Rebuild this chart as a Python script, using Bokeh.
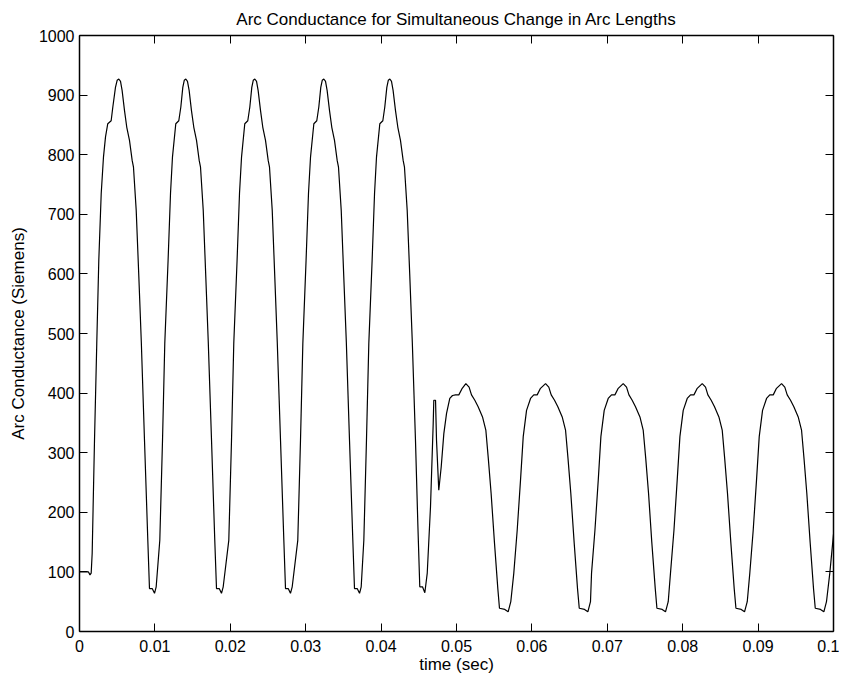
import numpy as np
from bokeh.plotting import figure
from bokeh.models import (Range1d, LinearAxis, FixedTicker, NumeralTickFormatter,
                          CustomJSTickFormatter, ColumnDataSource)
from bokeh.embed import file_html
from bokeh.resources import INLINE

# ---- data (time in ms, conductance in Siemens) ----
t_start = [0, 1.19, 1.39, 1.55, 1.68, 1.99, 2.29, 2.56, 2.88, 3.18, 3.45, 3.75, 4.20, 4.42, 4.77, 5.00, 5.21]
g_start = [100, 100, 95, 98, 131, 321, 483, 623, 735, 796, 830, 852, 857, 880, 913, 925, 927]

t_fall1 = [5.44, 5.65, 5.97, 6.27, 6.63, 6.99, 7.16, 7.52, 7.87, 8.20, 8.62, 9.06, 9.28, 9.64, 9.95, 10.17]
t_rise2 = [10.65, 11.01, 11.31, 11.75, 12.07, 12.33, 12.77, 13.17, 13.44, 13.70, 13.90, 14.10]
t_fall2 = [14.32, 14.54, 14.85, 15.16, 15.52, 15.88, 16.05, 16.41, 16.75, 17.08, 17.51, 17.94, 18.17, 18.53, 18.83, 19.06]
t_rise3 = [19.80, 20.16, 20.46, 20.90, 21.22, 21.49, 21.92, 22.32, 22.59, 22.85, 23.05, 23.25]
t_fall3 = [23.48, 23.69, 24.01, 24.31, 24.67, 25.03, 25.20, 25.56, 25.90, 26.23, 26.66, 27.10, 27.32, 27.68, 27.98, 28.21]
t_rise4 = [28.95, 29.31, 29.62, 30.05, 30.37, 30.64, 31.08, 31.47, 31.74, 32.00, 32.20, 32.40]
t_fall4 = [32.63, 32.84, 33.16, 33.46, 33.82, 34.18, 34.35, 34.71, 35.05, 35.39, 35.81, 36.25, 36.47, 36.83, 37.14, 37.36]
t_rise5 = [37.71, 38.06, 38.37, 38.81, 39.13, 39.39, 39.83, 40.23, 40.49, 40.76, 40.96, 41.16]
g_fall_hi = [923, 908, 874, 846, 824, 790, 779, 707, 595, 485, 321, 153, 72, 72, 64, 75]
g_rise_hi = [153, 321, 483, 623, 735, 796, 852, 857, 880, 913, 925, 927]

t_switch = [41.38, 41.59, 41.91, 42.22, 42.57, 42.93, 43.10, 43.46, 43.81, 44.14,
            44.56, 44.87, 45.13, 45.49, 45.80, 46.12, 46.55, 46.91, 46.99, 47.22, 47.35,
            47.65, 47.97, 48.32, 48.68, 49.11, 49.47, 49.87, 50.31, 50.76, 51.24]
g_switch = [923, 908, 874, 846, 824, 790, 779, 707, 595, 485,
            321, 181, 75, 75, 65, 98, 209, 349, 388, 388, 321,
            237, 276, 332, 366, 391, 396, 397, 397, 408, 416]

t_fallq1 = [51.67, 51.99, 52.43, 52.87, 53.45, 53.89, 54.22, 54.59, 55.03, 55.48, 55.70, 56.41, 56.85, 57.20]
t_riseq2 = [57.60, 58.05, 58.49, 58.85, 59.29, 59.82, 60.25, 60.70, 61.14, 61.81]
t_fallq2 = [62.24, 62.56, 63.00, 63.44, 64.02, 64.46, 64.79, 65.16, 65.60, 66.05, 66.28, 66.98, 67.42, 67.77]
t_riseq3 = [67.91, 68.36, 68.80, 69.15, 69.59, 70.12, 70.56, 71.01, 71.45, 72.11]
t_fallq3 = [72.55, 72.87, 73.30, 73.74, 74.33, 74.76, 75.10, 75.47, 75.90, 76.36, 76.58, 77.28, 77.72, 78.08]
t_riseq4 = [78.38, 78.84, 79.27, 79.63, 80.07, 80.60, 81.04, 81.49, 81.93, 82.59]
t_fallq4 = [83.03, 83.34, 83.78, 84.22, 84.80, 85.24, 85.57, 85.94, 86.38, 86.83, 87.06, 87.76, 88.20, 88.56]
t_riseq5 = [88.90, 89.35, 89.79, 90.15, 90.59, 91.12, 91.55, 92.01, 92.44, 93.11]
t_fallq5 = [93.54, 93.86, 94.30, 94.74, 95.32, 95.76, 96.09, 96.46, 96.90, 97.35, 97.58, 98.28, 98.72, 99.07]
g_fall_lo = [410, 397, 388, 377, 360, 338, 290, 232, 150, 72, 39, 37, 33, 50]
g_rise_lo = [98, 170, 254, 327, 371, 391, 397, 397, 408, 416]

t_end = [99.51, 100.0]
g_end = [98, 163]

x_ticks = [0, 0.01, 0.02, 0.03, 0.04, 0.05, 0.06, 0.07, 0.08, 0.09, 0.1]
y_ticks = [0, 100, 200, 300, 400, 500, 600, 700, 800, 900, 1000]

time_ms = (t_start + t_fall1 + t_rise2 + t_fall2 + t_rise3 + t_fall3 + t_rise4 + t_fall4 + t_rise5
           + t_switch + t_fallq1 + t_riseq2 + t_fallq2 + t_riseq3 + t_fallq3 + t_riseq4 + t_fallq4
           + t_riseq5 + t_fallq5 + t_end)
cond = (g_start + g_fall_hi + g_rise_hi + g_fall_hi + g_rise_hi + g_fall_hi + g_rise_hi + g_fall_hi + g_rise_hi
        + g_switch + g_fall_lo + g_rise_lo + g_fall_lo + g_rise_lo + g_fall_lo + g_rise_lo + g_fall_lo
        + g_rise_lo + g_fall_lo + g_end)

src = ColumnDataSource(dict(t=np.array(time_ms) / 1000.0, g=np.array(cond, dtype=float)))

FONT = "Liberation Sans"

p = figure(frame_width=754, frame_height=596,
           x_range=Range1d(0, 0.1), y_range=Range1d(0, 1000),
           output_backend="svg", toolbar_location=None,
           min_border_left=79, min_border_right=6, min_border_top=35, min_border_bottom=44,
           title="Arc Conductance for Simultaneous Change in Arc Lengths",
           x_axis_label="time (sec)", y_axis_label="Arc Conductance (Siemens)")
p.background_fill_color = "white"
p.border_fill_color = "white"
p.outline_line_color = None
p.xgrid.visible = False
p.ygrid.visible = False

p.title.align = "center"
p.title.text_font = FONT
p.title.text_font_size = "17px"
p.title.text_font_style = "normal"
p.title.text_color = "black"
p.title.standoff = 14

bottom = p.below[0]
left = p.left[0]
bottom.ticker = FixedTicker(ticks=x_ticks)
left.ticker = FixedTicker(ticks=y_ticks)
bottom.formatter = NumeralTickFormatter(format="0.[00]")

blank = CustomJSTickFormatter(code="return ''")
top = LinearAxis(ticker=FixedTicker(ticks=x_ticks), formatter=blank,
                 major_label_text_font_size="1px", major_label_standoff=0)
right = LinearAxis(ticker=FixedTicker(ticks=y_ticks), formatter=blank,
                   major_label_text_font_size="1px", major_label_standoff=0)
p.add_layout(top, "above")
p.add_layout(right, "right")

for ax in [bottom, left, top, right]:
    ax.major_tick_in = 8
    ax.major_tick_out = 0
    ax.minor_tick_in = 0
    ax.minor_tick_out = 0
    ax.axis_line_color = "black"
    ax.axis_line_width = 1.5
    ax.major_tick_line_color = "black"
    ax.major_tick_line_width = 1
    ax.major_label_text_font = FONT
    ax.major_label_text_color = "black"
    ax.axis_label_text_font = FONT
    ax.axis_label_text_font_size = "17px"
    ax.axis_label_text_font_style = "normal"
    ax.axis_label_text_color = "black"

bottom.major_label_text_font_size = "16px"
left.major_label_text_font_size = "16px"
bottom.major_label_standoff = 8
left.major_label_standoff = 5
bottom.axis_label_standoff = 0
left.axis_label_standoff = 8

p.line("t", "g", source=src, line_color="black", line_width=1.2)

open("out.html", "w").write(file_html(p, INLINE))
